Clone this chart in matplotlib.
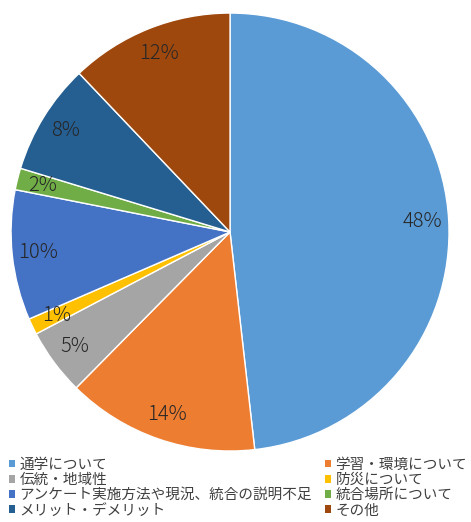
import matplotlib.pyplot as plt
from matplotlib.patches import Patch

plt.rcParams['font.family'] = ['Noto Sans CJK JP', 'DejaVu Sans']

# data (percent of answers)
categories = ['通学について', '学習・環境について', '伝統・地域性', '防災について',
              'アンケート実施方法や現況、統合の説明不足', '統合場所について',
              'メリット・デメリット', 'その他']
values = [48.2, 14.2, 4.9, 1.2, 9.6, 1.6, 8.2, 12.1]
colors = ['#5B9BD5', '#ED7D31', '#A5A5A5', '#FFC000',
          '#4472C4', '#70AD47', '#255E91', '#9E480E']

fig = plt.figure(figsize=(4.71, 5.22), dpi=100)
ax = fig.add_axes([0.0234, 0.136, 0.93, 0.839])

wedges, texts, autotexts = ax.pie(
    values, colors=colors, startangle=90, counterclock=False,
    autopct='%.0f%%', pctdistance=0.88,
    wedgeprops=dict(edgecolor='white', linewidth=1),
    textprops=dict(fontsize=14.5, color='#262626', weight='light'),
)
ax.set_xlim(-1, 1)
ax.set_ylim(-1, 1)
ax.set_aspect('equal')

# legend fills row by row in the reference
order = [0, 1, 2, 3, 4, 5, 6, 7]
col1 = order[0::2]
col2 = order[1::2]
handles = [Patch(facecolor=colors[i]) for i in col1 + col2]
labels = [categories[i] for i in col1 + col2]
fig.legend(handles, labels, ncol=2, loc='lower left',
           bbox_to_anchor=(0.0, -0.008), frameon=False,
           fontsize=10.5, labelcolor='#404040',
           handlelength=0.42, handleheight=0.42, handletextpad=0.3,
           columnspacing=0.9, labelspacing=0.08, borderaxespad=0.2)

fig.savefig('out.png', dpi=100, facecolor='white')
